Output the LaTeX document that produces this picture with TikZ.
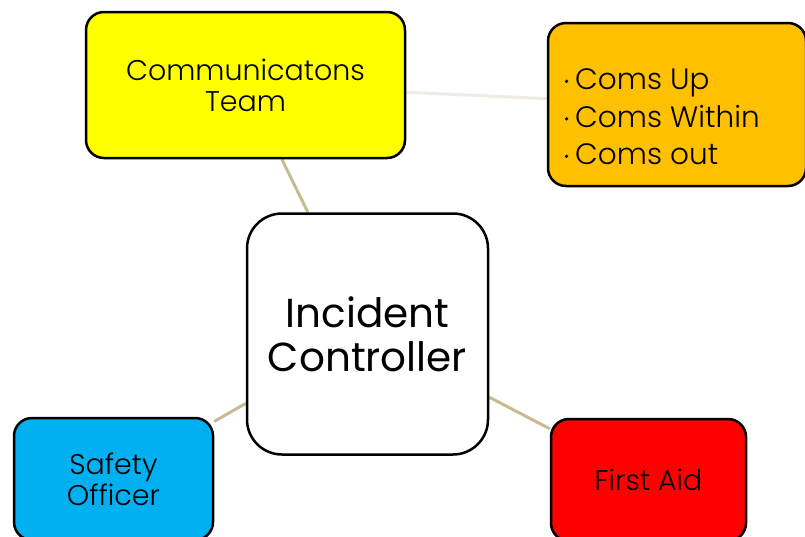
\documentclass[tikz,border=0pt]{standalone}
\usepackage{fontspec}
\setmainfont{Poppins}
\newfontfamily\lightfont{Poppins}[UprightFont={* Light}]
\usetikzlibrary{backgrounds}
\definecolor{comyellow}{HTML}{FFFF00}
\definecolor{comorange}{HTML}{FFC000}
\definecolor{safeblue}{HTML}{00B0F0}
\definecolor{aidred}{HTML}{FF0000}
\definecolor{linktan}{HTML}{C8BB8F}
\definecolor{linkpale}{HTML}{EEEBE3}
% small round list bullet sitting at mid x-height
\newcommand\bul{\makebox[13pt][l]{\hspace{2.5pt}\tikz[baseline=-8.5pt]\fill (0,0) circle (1.8pt);}}
\begin{document}
\begin{tikzpicture}[x=1pt,y=-1pt,
  box/.style={draw=black, line width=2.5pt, rounded corners=18pt, inner sep=0pt, align=center},
  small/.style={font=\lightfont\fontsize{28.5}{31}\selectfont},
  link/.style={line width=3pt, draw=linktan},
]
\useasboundingbox (0,0) rectangle (805,536);

% team boxes
\node[box, small, fill=comyellow, minimum width=319pt, minimum height=146pt] (comms) at (245.5,85) {Communicatons\\Team};
\node[box, fill=comorange, minimum width=258pt, minimum height=163pt] (coms) at (677,104.5) {};
\node[anchor=west, align=left, inner sep=0pt, font=\lightfont\fontsize{29.5}{37.5}\selectfont] (comslist) at (562,117)
  {\bul Coms Up\\\bul Coms Within\\\bul Coms out};
\node[box, fill=white, rounded corners=35pt, minimum width=241pt, minimum height=241pt,
      font=\fontsize{40.5}{44}\selectfont] (ic) at (367.5,334) {Incident\\Controller};
\node[box, small, fill=safeblue, minimum width=199pt, minimum height=122pt] (safety) at (113.5,479) {Safety\\Officer};
\node[box, small, fill=aidred, minimum width=195pt, minimum height=122pt] (aid) at (648.5,480) {First Aid};

% connectors behind the boxes
\begin{scope}[on background layer]
  \draw[link] (ic) -- (comms);
  \draw[link] (ic) -- (safety);
  \draw[link] (ic) -- (aid);
  \draw[link, draw=linkpale] (comms) -- (coms);
\end{scope}
\end{tikzpicture}
\end{document}
